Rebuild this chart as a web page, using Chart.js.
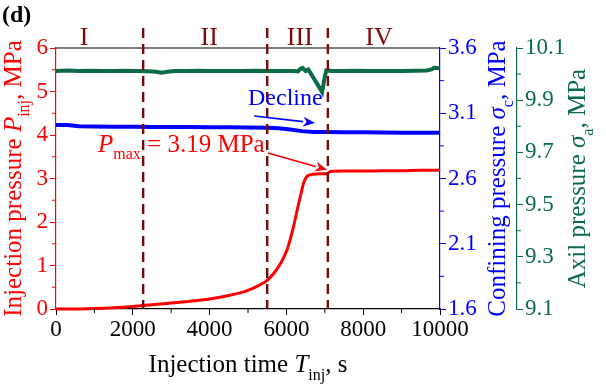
<!DOCTYPE html>
<html>
<head>
<meta charset="utf-8">
<script src="https://cdn.jsdelivr.net/npm/chart.js@4.4.0/dist/chart.umd.min.js"></script>
<style>
  html, body { margin: 0; padding: 0; background: #fff; }
  #wrap { width: 606px; height: 387px; position: relative; }
</style>
</head>
<body>
<div id="wrap"><canvas id="myChart"></canvas></div>
<script>
(function () {
  "use strict";

  const SERIF = "'Liberation Serif'";
  const RED = "#ff0000";
  const BLUE = "#0000ff";
  const GREEN = "#0a6b45";
  const STAGE = "#7a0a0a";

  // injection pressure P_inj (MPa)
  const injTime = [0, 500, 1000, 1500, 2000, 2270, 2800, 3500, 4000, 4500, 5000, 5300, 5500, 5700, 5850, 6000, 6100, 6200, 6300, 6380, 6450, 6520, 6600, 6700, 6850, 7000, 7080, 7150, 7500, 8000, 8500, 9000, 9500, 10000];
  const injPressure = [0, 0, 0.01, 0.03, 0.06, 0.08, 0.12, 0.18, 0.23, 0.31, 0.43, 0.55, 0.66, 0.85, 1.05, 1.32, 1.6, 1.95, 2.35, 2.65, 2.9, 3.03, 3.08, 3.1, 3.11, 3.11, 3.12, 3.16, 3.17, 3.17, 3.18, 3.18, 3.19, 3.19];

  // confining pressure sigma_c (MPa)
  const confTime = [0, 300, 600, 1000, 1500, 2000, 2500, 3000, 3500, 4000, 4500, 5000, 5500, 5800, 6100, 6400, 6700, 7000, 7500, 8000, 8500, 9000, 9500, 10000];
  const confPressure = [3.01, 3.01, 3.0, 2.998, 2.997, 2.996, 2.995, 2.995, 2.994, 2.993, 2.992, 2.991, 2.989, 2.985, 2.975, 2.963, 2.957, 2.956, 2.955, 2.954, 2.952, 2.951, 2.95, 2.95];

  // axil pressure sigma_a (MPa)
  const axilTime = [0, 300, 600, 900, 1200, 1500, 1800, 2100, 2400, 2600, 2750, 2900, 3100, 3400, 3700, 4000, 4400, 4800, 5200, 5600, 6000, 6200, 6300, 6360, 6420, 6500, 6570, 6750, 6930, 7000, 7040, 7200, 7500, 7800, 8200, 8600, 9000, 9400, 9650, 9780, 9850, 10000];
  const axilPressure = [10.012, 10.014, 10.012, 10.013, 10.012, 10.012, 10.013, 10.012, 10.011, 10.009, 10.005, 10.009, 10.012, 10.012, 10.013, 10.012, 10.012, 10.012, 10.013, 10.012, 10.012, 10.012, 10.01, 10.02, 10.024, 10.012, 10.018, 9.975, 9.931, 9.99, 10.014, 10.012, 10.012, 10.013, 10.012, 10.012, 10.012, 10.013, 10.014, 10.018, 10.024, 10.022];

  // axis ticks
  const timeTicks = [0, 2000, 4000, 6000, 8000, 10000];
  const injTicks = [0, 1, 2, 3, 4, 5, 6];
  const confTicks = [1.6, 2.1, 2.6, 3.1, 3.6];
  const axilTicks = [9.1, 9.3, 9.5, 9.7, 9.9, 10.1];

  // stages
  const stageBounds = [2270, 5500, 7080];
  const stageNames = ["I", "II", "III", "IV"];
  const stageCenters = [730, 3990, 6350, 8410];

  const pts = (xs, ys) => xs.map((x, i) => ({ x: x, y: ys[i] }));
  const fixTicks = (list) => (s) => {
    s.ticks = list.map((v) => ({ value: v }));
  };

  // text made of pieces (italic / subscript)
  function richText(ctx, parts, x, y, size, color, angle, align) {
    ctx.save();
    ctx.translate(x, y);
    ctx.rotate(angle || 0);
    ctx.fillStyle = color;
    ctx.textBaseline = "alphabetic";
    ctx.textAlign = "left";
    const fontOf = (p) =>
      (p.italic ? "italic " : "") + (p.bold ? "bold " : "") +
      Math.round(p.sub ? size * 0.64 : size) + "px " + SERIF;
    let total = 0;
    parts.forEach((p) => {
      ctx.font = fontOf(p);
      total += ctx.measureText(p.t).width;
    });
    let cx = align === "left" ? 0 : -total / 2;
    parts.forEach((p) => {
      ctx.font = fontOf(p);
      ctx.fillText(p.t, cx, p.sub ? size * 0.3 : 0);
      cx += ctx.measureText(p.t).width;
    });
    ctx.restore();
  }

  function arrow(ctx, x1, y1, x2, y2, color) {
    const a = Math.atan2(y2 - y1, x2 - x1);
    const hl = 12, hw = 5;
    ctx.save();
    ctx.strokeStyle = color;
    ctx.fillStyle = color;
    ctx.lineWidth = 1.6;
    ctx.beginPath();
    ctx.moveTo(x1, y1);
    ctx.lineTo(x2 - hl * Math.cos(a), y2 - hl * Math.sin(a));
    ctx.stroke();
    ctx.beginPath();
    ctx.moveTo(x2, y2);
    ctx.lineTo(x2 - hl * Math.cos(a) + hw * Math.sin(a), y2 - hl * Math.sin(a) - hw * Math.cos(a));
    ctx.lineTo(x2 - hl * 0.7 * Math.cos(a), y2 - hl * 0.7 * Math.sin(a));
    ctx.lineTo(x2 - hl * Math.cos(a) - hw * Math.sin(a), y2 - hl * Math.sin(a) + hw * Math.cos(a));
    ctx.closePath();
    ctx.fill();
    ctx.restore();
  }

  const decorations = {
    id: "decorations",
    afterDatasetsDraw(chart) {
      const ctx = chart.ctx;
      const a = chart.chartArea;
      const sx = chart.scales.x, sy = chart.scales.y, sc = chart.scales.yc, sa = chart.scales.ya;

      // frame top
      ctx.save();
      ctx.strokeStyle = "#000";
      ctx.lineWidth = 1.2;
      ctx.beginPath();
      ctx.moveTo(a.left, a.top);
      ctx.lineTo(a.right, a.top);
      ctx.stroke();

      // minor ticks
      const minor = (scale, list, color, side) => {
        ctx.strokeStyle = color;
        ctx.lineWidth = 1;
        for (let i = 0; i < list.length - 1; i++) {
          const p = scale.getPixelForValue((list[i] + list[i + 1]) / 2);
          ctx.beginPath();
          if (side === "bottom") {
            ctx.moveTo(p, a.bottom);
            ctx.lineTo(p, a.bottom + 4);
          } else if (side === "left") {
            ctx.moveTo(scale.right, p);
            ctx.lineTo(scale.right - 4, p);
          } else {
            ctx.moveTo(scale.left, p);
            ctx.lineTo(scale.left + 4, p);
          }
          ctx.stroke();
        }
      };
      minor(sx, timeTicks, "#000", "bottom");
      minor(sy, injTicks, RED, "left");
      minor(sc, confTicks, BLUE, "right");
      minor(sa, axilTicks, GREEN, "right");

      // stage boundaries
      ctx.strokeStyle = STAGE;
      ctx.lineWidth = 2.4;
      ctx.setLineDash([10, 6]);
      stageBounds.forEach((t) => {
        const px = sx.getPixelForValue(t);
        ctx.beginPath();
        ctx.moveTo(px, a.top - 20);
        ctx.lineTo(px, a.bottom);
        ctx.stroke();
      });
      ctx.setLineDash([]);
      ctx.fillStyle = STAGE;
      ctx.font = "26px " + SERIF;
      ctx.textAlign = "center";
      ctx.textBaseline = "alphabetic";
      stageNames.forEach((n, i) => {
        ctx.fillText(n, sx.getPixelForValue(stageCenters[i]), a.top - 3);
      });
      ctx.restore();

      // annotations
      richText(ctx, [{ t: "Decline" }], sx.getPixelForValue(5000), sc.getPixelForValue(3.163), 24, BLUE, 0, "left");
      arrow(ctx, sx.getPixelForValue(5160), sc.getPixelForValue(3.079), sx.getPixelForValue(6745), sc.getPixelForValue(3.025), BLUE);
      richText(ctx, [{ t: "P", italic: true }, { t: "max", sub: true }, { t: " = 3.19 MPa" }],
        sx.getPixelForValue(1094), sy.getPixelForValue(3.61), 25, RED, 0, "left");
      arrow(ctx, sx.getPixelForValue(5520), sy.getPixelForValue(3.586), sx.getPixelForValue(7060), sy.getPixelForValue(3.2), RED);

      // panel label
      richText(ctx, [{ t: "(d)", bold: true }], 2, 22, 24, "#000", 0, "left");

      // axis titles
      richText(ctx, [{ t: "Injection time " }, { t: "T", italic: true }, { t: "inj", sub: true }, { t: ", s" }],
        (a.left + a.right) / 2, 372, 25, "#000", 0);
      richText(ctx, [{ t: "Injection pressure " }, { t: "P", italic: true }, { t: "inj", sub: true }, { t: ", MPa" }],
        21, (a.top + a.bottom) / 2, 25, RED, -Math.PI / 2);
      richText(ctx, [{ t: "Confining pressure " }, { t: "\u03c3", italic: true }, { t: "c", sub: true }, { t: ", MPa" }],
        505, (a.top + a.bottom) / 2, 25, BLUE, -Math.PI / 2);
      richText(ctx, [{ t: "Axil pressure " }, { t: "\u03c3", italic: true }, { t: "a", sub: true }, { t: ", MPa" }],
        585, (a.top + a.bottom) / 2, 25, GREEN, -Math.PI / 2);
    },
  };

  const tickFont = { family: SERIF, size: 23 };

  new Chart(document.getElementById("myChart"), {
    type: "line",
    data: {
      datasets: [
        {
          label: "Axil pressure",
          data: pts(axilTime, axilPressure),
          yAxisID: "ya",
          borderColor: GREEN,
          borderWidth: 4,
          pointRadius: 0,
          tension: 0,
        },
        {
          label: "Confining pressure",
          data: pts(confTime, confPressure),
          yAxisID: "yc",
          borderColor: BLUE,
          borderWidth: 4,
          pointRadius: 0,
          tension: 0,
        },
        {
          label: "Injection pressure",
          data: pts(injTime, injPressure),
          yAxisID: "y",
          borderColor: RED,
          borderWidth: 3,
          pointRadius: 0,
          cubicInterpolationMode: "monotone",
          clip: { left: 0, top: 0, right: 0, bottom: 3 },
        },
      ],
    },
    options: {
      responsive: true,
      maintainAspectRatio: false,
      animation: false,
      layout: { padding: { top: 48, left: 0, right: 0, bottom: 0 } },
      plugins: {
        legend: { display: false },
        tooltip: { enabled: false },
      },
      scales: {
        x: {
          type: "linear",
          min: 0,
          max: 10000,
          afterBuildTicks: fixTicks(timeTicks),
          afterFit: (s) => { s.height = 78; },
          ticks: { font: tickFont, color: "#000", padding: 1, maxRotation: 0, autoSkip: false, callback: (v) => String(v) },
          grid: { drawOnChartArea: false, tickLength: 6, color: "#000" },
          border: { color: "#000", width: 1.2 },
        },
        y: {
          position: "left",
          min: 0,
          max: 6,
          afterBuildTicks: fixTicks(injTicks),
          afterFit: (s) => { s.width = 56; },
          ticks: { font: tickFont, color: RED, padding: 2, autoSkip: false, callback: (v) => String(v) },
          grid: { drawOnChartArea: false, tickLength: 6, color: RED },
          border: { color: RED, width: 1.2 },
        },
        yc: {
          position: "right",
          weight: 0,
          min: 1.6,
          max: 3.6,
          afterBuildTicks: fixTicks(confTicks),
          afterFit: (s) => { s.width = 77; },
          ticks: { font: tickFont, color: BLUE, padding: 2, autoSkip: false, callback: (v) => v.toFixed(1) },
          grid: { drawOnChartArea: false, tickLength: 6, color: BLUE },
          border: { color: BLUE, width: 1.2 },
        },
        ya: {
          position: "right",
          weight: 1,
          min: 9.1,
          max: 10.1,
          afterBuildTicks: fixTicks(axilTicks),
          afterFit: (s) => { s.width = 89; },
          ticks: { font: tickFont, color: GREEN, padding: 2, autoSkip: false, callback: (v) => v.toFixed(1) },
          grid: { drawOnChartArea: false, tickLength: 6, color: GREEN },
          border: { color: GREEN, width: 1.2 },
        },
      },
    },
    plugins: [decorations],
  });
})();
</script>
</body>
</html>
